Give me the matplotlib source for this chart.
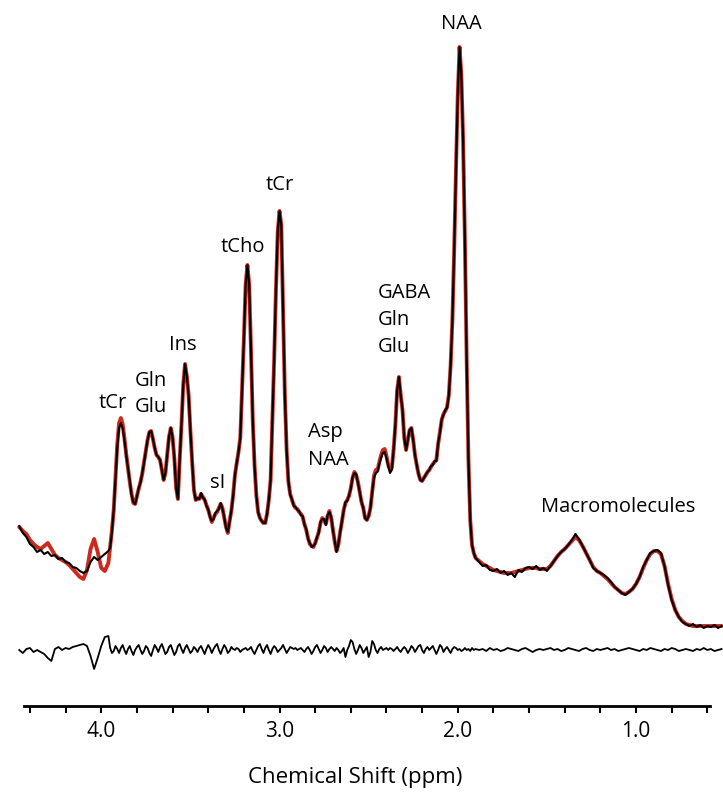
import numpy as np
import matplotlib
matplotlib.use("Agg")
import matplotlib.pyplot as plt

plt.rcParams['font.family'] = ['Open Sans', 'DejaVu Sans']

# chemical-shift sampling (ppm): coarse at the edges, fine across the metabolite region
ppm = np.concatenate([
    np.round(np.arange(4.46, 3.955, -0.02), 2),
    np.round(np.arange(3.95, 1.895, -0.01), 2),
    np.round(np.arange(1.88, 0.515, -0.02), 2),
])

# measured spectrum (black), arbitrary units
data_a = [180, 173, 169, 162, 159, 154, 156, 152, 154, 150,
          151, 147, 148, 144, 143, 139, 138, 135, 133, 135,
          144, 149, 146, 149, 152, 155]
data_b = [158, 174, 196, 228, 259, 278, 283, 278, 266, 251,
          238, 225, 211, 204, 202, 209, 218, 223, 233, 243,
          255, 266, 274, 275, 267, 258, 251, 249, 246, 236,
          226, 233, 251, 269, 278, 269, 248, 218, 207, 246,
          281, 321, 342, 330, 311, 276, 244, 216, 206, 208,
          207, 213, 208, 207, 200, 197, 189, 185, 187, 193,
          195, 197, 203, 197, 189, 178, 174, 184, 196, 210,
          231, 243, 254, 268, 316, 366, 421, 441, 421, 356,
          286, 241, 211, 194, 188, 185, 183, 183, 192, 206,
          226, 286, 346, 416, 474, 495, 481, 396, 311, 256,
          225, 211, 207, 200, 199, 196, 195, 191, 190, 181,
          177, 167, 163, 159, 160, 162, 169, 173, 184, 187,
          187, 181, 191, 194, 189, 175, 165, 154, 162, 173,
          185, 195, 204, 205, 211, 217, 229, 233, 232, 223,
          214, 204, 198, 188, 186, 190, 198, 214, 228, 233,
          234, 242, 248, 253, 254, 248, 240, 233, 236, 256,
          281, 316, 329, 311, 296, 268, 256, 266, 276, 278,
          266, 251, 241, 232, 226, 225, 228, 231, 234, 236,
          240, 241, 245, 245, 263, 273, 287, 291, 296, 298,
          311, 341, 386, 456, 536, 611, 659, 631, 566, 466,
          346, 246, 186, 161, 153, 148]
data_c = [144, 140, 141, 136, 135, 137, 133, 135, 131, 133,
          129, 136, 134, 138, 139, 137, 140, 136, 138, 135,
          140, 145, 150, 154, 157, 161, 166, 172, 167, 160,
          153, 146, 138, 135, 133, 131, 128, 124, 119, 116,
          113, 111, 114, 117, 122, 129, 139, 146, 153, 155,
          156, 153, 140, 121, 106, 96, 89, 84, 82, 80,
          82, 79, 81, 78, 80, 79, 81, 78, 80]

# fitted model (red)
fit_a = [179, 175, 172, 166, 162, 159, 157, 160, 163, 157,
         151, 148, 146, 144, 141, 137, 133, 129, 127, 136,
         157, 167, 154, 138, 135, 143]
fit_b = [160, 176, 196, 230, 262, 283, 288, 282, 268, 252,
         238, 224, 212, 203, 202, 210, 217, 224, 232, 244,
         255, 266, 274, 275, 267, 258, 251, 249, 246, 236,
         226, 233, 251, 269, 278, 269, 248, 218, 207, 246,
         281, 321, 342, 330, 311, 276, 244, 216, 206, 208,
         207, 212, 209, 206, 201, 196, 190, 184, 188, 192,
         194, 198, 202, 198, 188, 179, 173, 185, 195, 211,
         231, 243, 254, 268, 316, 366, 421, 441, 421, 356,
         286, 241, 211, 194, 188, 185, 183, 183, 192, 206,
         226, 286, 346, 416, 474, 495, 481, 396, 311, 256,
         224, 212, 206, 201, 198, 197, 194, 192, 189, 182,
         176, 168, 162, 160, 159, 163, 168, 174, 183, 188,
         186, 182, 190, 195, 188, 176, 164, 155, 161, 174,
         184, 196, 203, 206, 210, 218, 228, 234, 231, 224,
         214, 204, 198, 188, 186, 190, 198, 214, 230, 236,
         236, 244, 251, 256, 257, 250, 241, 236, 238, 256,
         281, 316, 329, 311, 296, 268, 256, 266, 276, 278,
         266, 251, 241, 232, 226, 225, 228, 231, 234, 236,
         239, 242, 244, 246, 262, 274, 286, 292, 295, 299,
         311, 341, 386, 456, 536, 611, 659, 631, 566, 466,
         346, 246, 186, 161, 153, 148]
fit_c = [145, 142, 140, 138, 136, 135, 134, 133, 133, 133,
         134, 135, 136, 137, 138, 138, 138, 137, 137, 137,
         140, 145, 150, 154, 157, 161, 165, 169, 166, 160,
         153, 146, 139, 135, 133, 130, 127, 123, 119, 116,
         113, 112, 114, 117, 122, 129, 138, 146, 152, 155,
         155, 152, 140, 122, 107, 96, 89, 85, 82, 81,
         80, 80, 80, 80, 80, 80, 80, 80, 80]

# residual (data - fit), same units
resid_a = [0, -3, 1, 2, -2, 0, -2, -4, -8, -11,
           1, 3, 0, 2, 1, 3, 4, 5, 6, 4,
           -6, -19, -8, 4, 13, 14]
resid_b = [2, -3, -1, 4, 1, -3, 2, 5, 0, -4,
           1, 4, -1, -5, 0, 3, 5, 0, -4, -1,
           4, 2, -3, -6, 0, 5, 2, -2, 3, 6,
           1, -4, -2, 3, 5, 0, -5, -2, 4, 6,
           1, -3, 2, 5, 1, -3, -1, 3, 1, -2,
           2, 4, 0, -4, 1, 5, 2, -3, 1, 4,
           6, 0, -4, 1, 5, 2, -3, -1, 3, 1,
           0, 2, 1, -2, 0, 1, 2, 0, 1, 3,
           -1, -4, 0, 4, 6, 1, -3, 2, 5, 0,
           -4, 1, 4, 2, -2, 0, 2, 5, 1, -3,
           0, 3, 2, 1, 2, 0, 1, 2, 0, -2,
           1, 3, 0, -4, -1, 3, 5, 1, -3, 0,
           4, 2, -2, 1, 3, 1, -1, 2, 0, -3,
           -1, 2, -7, 0, 4, 10, 8, 1, -4, 0,
           5, 2, -3, 0, 3, -7, -2, 9, 6, 0,
           -3, 1, 3, 0, 1, 2, 0, 2, 1, -1,
           1, 3, 0, -2, 1, 3, 1, -3, 0, 4,
           2, -2, 1, 4, 5, 0, -3, 1, 3, 0,
           2, 4, 0, -4, 0, 5, 3, -2, 1, 3,
           0, -3, 1, 3, 2, 0, 1, -1, 0, 2,
           0, 1, -1, 2, 0, 1]
resid_c = [0, 1, -1, 2, 0, 1, -1, 0, 2, 1,
           0, -1, 1, 2, 0, -2, 0, 1, 0, 1,
           2, 0, 1, -1, 0, 2, 1, 0, -1, 1,
           2, 0, -1, 1, 0, 1, 2, 0, 1, -1,
           0, 1, 2, 1, 0, -1, 1, 0, 2, 1,
           0, -1, 1, 0, 2, 1, -1, 0, 1, 0,
           -1, 1, 0, 2, 0, 1, -1, 0, 1]

data = np.array(data_a + data_b + data_c, float)
fit = np.array(fit_a + fit_b + fit_c, float)
resid = np.array(resid_a + resid_b + resid_c, float)
RESID_OFFSET = 56

tick_major = [4.0, 3.0, 2.0, 1.0]
tick_major_labels = ['4.0', '3.0', '2.0', '1.0']
tick_minor = [4.4, 4.2, 3.8, 3.6, 3.4, 3.2, 2.8, 2.6, 2.4, 2.2,
              1.8, 1.6, 1.4, 1.2, 0.8, 0.6]

# (text, ppm, height, horizontal alignment)
peak_labels = [
    ("NAA", 1.978, 677, 'center'),
    ("tCr", 2.997, 516, 'center'),
    ("tCho", 3.208, 454, 'center'),
    ("Ins", 3.545, 356, 'center'),
    ("Gln", 3.811, 320, 'left'),
    ("Glu", 3.811, 294, 'left'),
    ("tCr", 3.934, 298, 'center'),
    ("sI", 3.345, 218, 'center'),
    ("Asp", 2.840, 269, 'left'),
    ("NAA", 2.840, 241, 'left'),
    ("GABA", 2.447, 408, 'left'),
    ("Gln", 2.447, 381, 'left'),
    ("Glu", 2.447, 354, 'left'),
    ("Macromolecules", 1.101, 194, 'center'),
]

fig = plt.figure(figsize=(7.23, 7.92), dpi=100)
ax = fig.add_axes([0, 86 / 792, 1, 706 / 792])
ax.plot(ppm, fit, color='#cc2a1f', lw=2.8, solid_joinstyle='round',
        solid_capstyle='round')
ax.plot(ppm, data, color='black', lw=1.5)
ax.plot(ppm, resid + RESID_OFFSET, color='black', lw=1.3)

ax.set_xlim(4.568, 0.512)
ax.set_ylim(0, 706)
for s in ['left', 'right', 'top']:
    ax.spines[s].set_visible(False)
ax.spines['bottom'].set_linewidth(2.0)
ax.spines['bottom'].set_bounds(4.435, 0.585)
ax.set_yticks([])
ax.set_xticks(tick_major)
ax.set_xticklabels(tick_major_labels)
ax.set_xticks(tick_minor, minor=True)
ax.tick_params(axis='x', which='both', direction='out', length=5,
               width=1.5, labelsize=15, pad=6)

for txt, x, y, ha in peak_labels:
    ax.text(x, y, txt, ha=ha, va='baseline', fontsize=14.5)

fig.text(355 / 723, 1 - 777 / 792, "Chemical Shift (ppm)", ha='center',
         va='center', fontsize=16)

fig.savefig("out.png", dpi=100)
